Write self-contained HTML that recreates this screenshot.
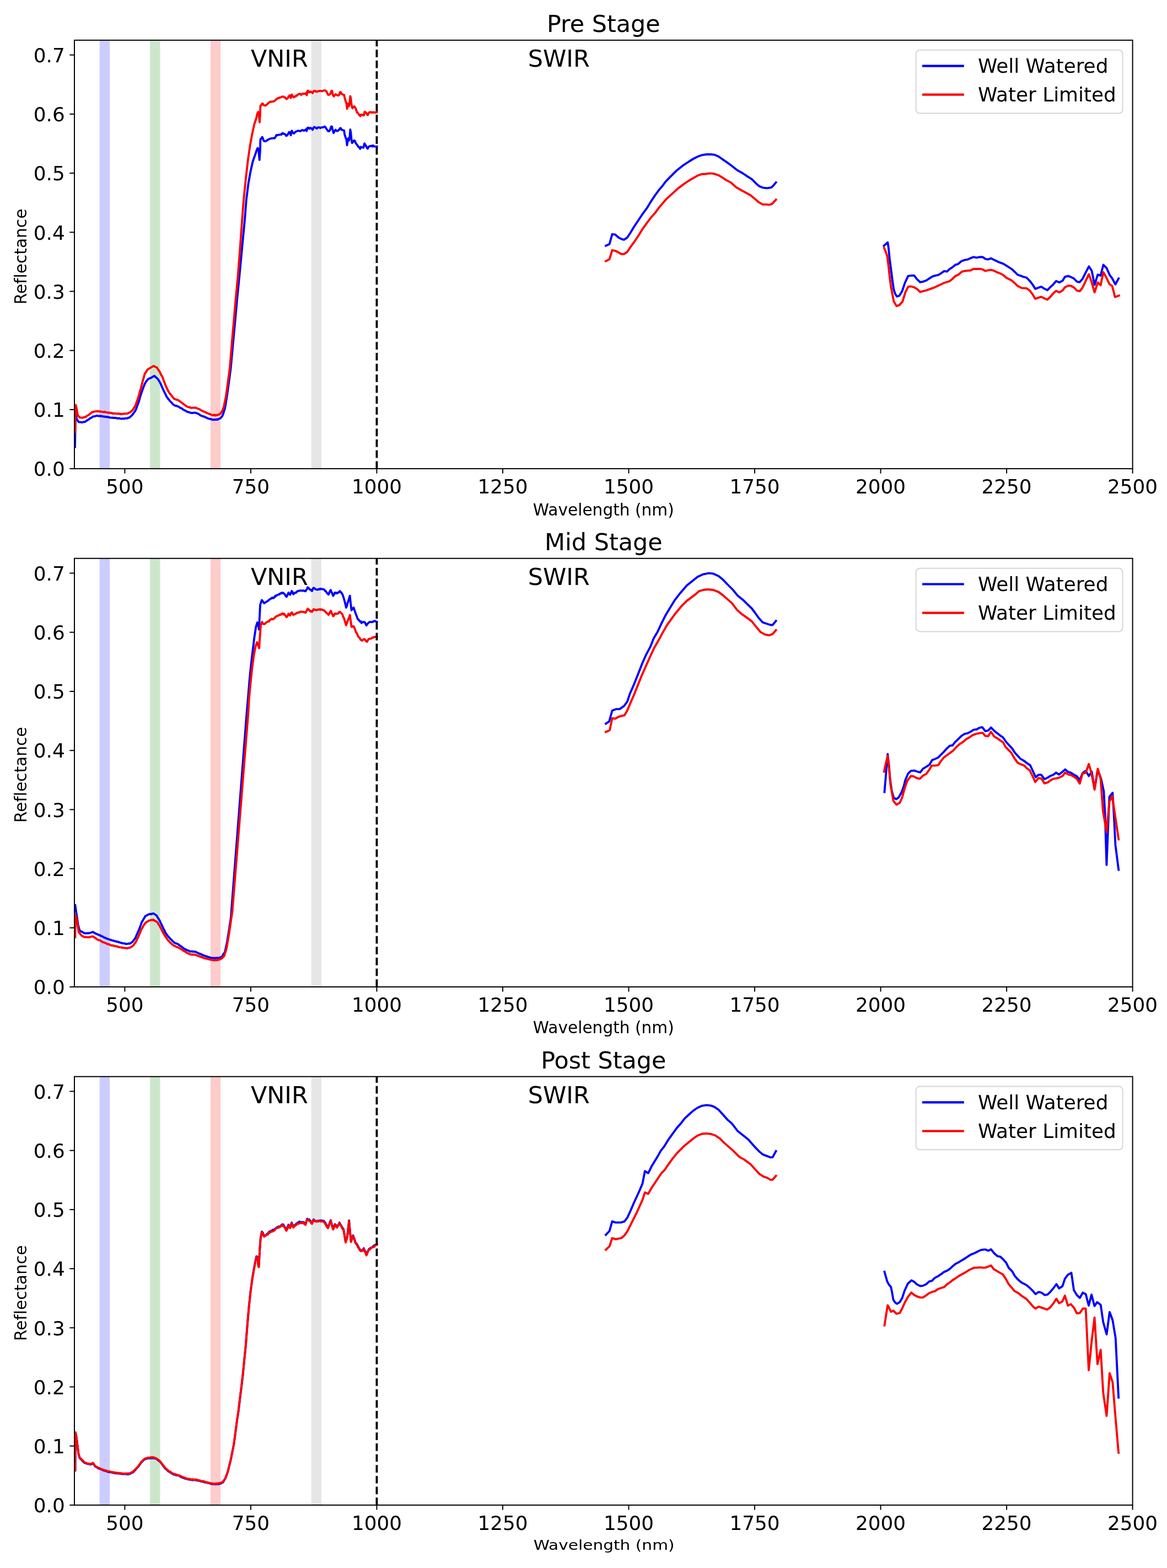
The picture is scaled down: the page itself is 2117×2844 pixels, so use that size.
<!DOCTYPE html><html><head><meta charset="utf-8"><style>html,body{margin:0;padding:0;background:#fff;overflow:hidden;}svg{display:block;}text{font-family:"DejaVu Sans","Liberation Sans",sans-serif;fill:#000;font-variant-ligatures:none;font-feature-settings:"liga" 0,"clig" 0;}</style></head><body>
<svg width="2117" height="2844" viewBox="0 0 2117 2844">
<rect x="0" y="0" width="2117" height="2844" fill="#fff"/>
<rect x="180.7" y="72.9" width="18.28" height="777.2" fill="#ccccff"/>
<rect x="272.11" y="72.9" width="18.28" height="777.2" fill="#cce6cc"/>
<rect x="381.81" y="72.9" width="18.28" height="777.2" fill="#ffcccc"/>
<rect x="564.62" y="72.9" width="18.28" height="777.2" fill="#e6e6e6"/>
<path d="M136.0 810.7 L136.9 749.0 L139.1 759.9 L140.3 762.0 L141.5 763.8 L142.7 765.3 L144.1 765.5 L145.4 765.6 L146.8 765.7 L148.2 766.2 L149.5 766.0 L150.9 765.5 L152.2 765.2 L153.6 765.3 L154.8 764.6 L156.0 763.8 L157.2 763.2 L158.5 762.0 L159.7 761.5 L160.9 760.8 L162.1 759.9 L163.3 758.7 L164.5 758.4 L165.7 757.5 L166.9 757.1 L168.1 755.7 L169.3 755.5 L170.6 755.1 L171.8 755.2 L173.0 754.6 L174.2 754.5 L175.4 754.0 L176.5 754.0 L177.7 754.3 L178.8 754.6 L179.9 754.6 L181.1 754.5 L182.2 754.3 L183.3 754.8 L184.5 754.8 L185.6 755.0 L186.7 755.3 L187.9 755.4 L189.0 755.8 L190.2 755.7 L191.3 755.9 L192.4 756.2 L193.6 756.2 L194.7 756.1 L195.8 756.5 L197.0 756.6 L198.1 757.4 L199.2 757.1 L200.4 757.5 L201.5 757.6 L202.6 757.7 L203.8 757.7 L204.9 757.5 L206.0 758.2 L207.2 757.9 L208.3 758.3 L209.4 757.9 L210.6 758.2 L211.7 758.4 L212.9 758.9 L214.0 759.0 L215.1 758.5 L216.3 758.6 L217.4 759.1 L218.5 759.4 L219.7 759.4 L220.8 759.5 L221.9 759.5 L223.1 759.1 L224.2 759.4 L225.3 759.5 L226.5 759.0 L227.6 758.7 L228.7 758.8 L229.9 758.9 L231.2 758.7 L232.6 757.6 L234.0 757.6 L235.3 757.1 L236.7 755.5 L238.1 754.4 L239.4 753.0 L240.8 751.7 L242.1 749.6 L243.5 748.0 L244.9 745.7 L246.2 743.5 L247.6 740.2 L248.9 736.2 L250.3 732.5 L251.7 729.0 L253.0 724.5 L254.4 719.2 L255.8 715.4 L257.1 710.8 L258.5 707.2 L259.8 703.3 L261.2 700.0 L262.6 696.3 L263.9 694.1 L265.3 691.6 L266.7 690.1 L268.0 688.1 L269.4 687.2 L270.7 686.6 L272.1 686.0 L273.5 685.4 L274.7 685.0 L276.0 684.0 L277.3 683.2 L278.5 682.6 L279.8 681.8 L281.1 682.4 L282.4 684.3 L283.6 684.8 L284.9 686.2 L286.2 687.2 L287.5 689.2 L288.9 691.5 L290.3 693.9 L291.6 696.3 L293.0 699.9 L294.3 702.8 L295.7 705.7 L297.1 709.0 L298.4 711.7 L299.8 714.2 L301.2 717.2 L302.5 719.9 L303.9 721.6 L305.2 723.7 L306.6 725.0 L308.0 727.2 L309.2 728.3 L310.4 729.4 L311.6 730.6 L312.8 732.2 L314.0 733.3 L315.2 734.4 L316.4 735.0 L317.7 735.6 L318.9 736.1 L320.1 735.9 L321.3 736.8 L322.5 737.2 L323.9 737.4 L325.2 738.5 L326.6 739.7 L327.9 739.9 L329.3 740.7 L330.7 741.6 L332.0 742.6 L333.4 743.5 L334.6 744.1 L335.8 744.7 L337.0 745.1 L338.2 746.2 L339.4 746.8 L340.7 747.1 L341.9 747.4 L343.1 747.8 L344.3 748.2 L345.5 748.6 L346.7 748.8 L347.9 749.0 L349.1 749.1 L350.3 748.8 L351.5 748.5 L352.8 748.6 L354.0 748.9 L355.2 748.6 L356.5 749.5 L357.9 749.9 L359.3 750.4 L360.6 751.1 L362.0 752.0 L363.4 753.2 L364.7 753.9 L366.1 754.4 L367.3 754.7 L368.5 755.3 L369.7 755.4 L370.9 755.9 L372.1 756.7 L373.3 757.1 L374.6 757.6 L375.8 758.3 L377.0 758.8 L378.2 759.2 L379.4 759.7 L380.6 759.9 L381.8 760.0 L383.0 760.1 L384.2 760.7 L385.4 761.5 L386.7 761.2 L387.9 761.3 L389.1 760.9 L390.3 761.2 L391.5 761.4 L392.7 760.7 L393.9 761.1 L395.1 760.8 L396.5 759.9 L397.9 759.7 L399.2 758.9 L400.6 758.0 L401.8 756.3 L403.0 754.9 L404.2 752.6 L405.4 748.9 L406.6 745.2 L407.8 741.7 L409.1 734.9 L410.3 726.9 L411.5 719.9 L415.1 694.5 L418.7 667.2 L423.0 620.0 L426.5 582.8 L430.4 540.0 L434.2 501.7 L439.1 450.0 L443.9 400.0 L446.8 362.8 L450.7 331.8 L454.6 310.5 L458.5 293.0 L463.3 279.5 L466.3 270.5 L467.5 268.6 L468.8 269.9 L470.0 282.5 L470.7 290.0 L471.9 273.0 L472.3 256.0 L472.6 252.2 L473.8 251.6 L475.7 248.4 L477.3 252.2 L478.4 255.3 L479.5 256.0 L481.4 256.3 L482.7 255.7 L483.9 255.0 L485.2 253.7 L486.5 253.5 L488.0 252.5 L489.6 251.6 L491.2 251.3 L492.8 250.9 L494.0 250.9 L495.3 250.6 L496.5 250.7 L497.8 250.9 L499.1 249.6 L500.3 247.2 L501.6 244.9 L502.9 245.3 L504.4 244.6 L506.0 244.6 L507.6 244.2 L509.2 244.0 L510.4 244.1 L511.7 242.1 L512.9 241.3 L514.2 242.7 L515.5 242.9 L516.7 243.4 L518.0 244.3 L519.3 246.5 L520.5 245.9 L522.4 243.4 L524.3 239.6 L526.2 239.6 L527.5 245.3 L529.4 237.1 L531.2 240.9 L533.1 242.1 L535.0 240.2 L536.3 238.9 L537.6 238.3 L538.8 238.0 L540.1 237.1 L541.7 237.4 L543.2 237.4 L544.8 238.0 L546.4 237.1 L547.6 236.1 L548.9 235.8 L550.2 236.6 L551.4 237.1 L553.3 235.8 L555.2 234.5 L556.2 237.7 L557.7 232.0 L559.0 231.4 L560.9 233.3 L562.0 233.2 L563.1 231.8 L564.3 232.9 L565.5 233.0 L567.1 235.4 L568.7 231.8 L570.2 230.3 L571.4 230.9 L572.6 231.8 L574.2 233.0 L575.3 232.9 L576.5 231.4 L578.1 230.9 L579.7 231.4 L581.2 232.2 L582.8 231.1 L584.0 231.1 L585.2 231.1 L586.4 230.6 L587.5 230.3 L589.1 229.5 L590.7 231.1 L591.9 233.2 L593.1 235.0 L595.0 237.7 L597.0 238.1 L599.0 235.0 L600.9 229.5 L602.1 229.5 L602.9 233.4 L604.1 238.1 L605.2 241.3 L607.2 237.3 L608.8 235.4 L610.4 237.3 L611.9 237.7 L613.1 237.2 L614.3 235.8 L615.5 235.2 L616.7 232.6 L617.8 232.2 L619.8 235.4 L621.0 235.7 L622.2 236.2 L624.1 236.6 L625.3 244.4 L626.9 249.2 L628.5 253.9 L629.6 263.3 L630.8 254.7 L632.0 250.7 L633.2 254.7 L634.4 248.4 L635.4 235.0 L636.3 239.7 L637.5 252.3 L638.7 259.4 L640.3 257.8 L642.2 254.7 L643.8 255.4 L645.4 259.8 L647.3 262.1 L648.5 263.7 L649.7 265.7 L651.7 267.3 L653.3 270.0 L654.4 266.5 L655.6 267.2 L656.8 267.3 L658.0 267.2 L659.2 268.0 L661.1 260.2 L662.3 262.5 L663.5 263.6 L664.7 266.5 L665.8 268.5 L667.0 269.6 L668.6 266.5 L669.8 265.5 L671.0 264.9 L672.1 265.3 L673.3 264.5 L674.5 264.5 L675.7 265.7 L676.9 263.9 L678.0 265.3 L679.2 265.6 L680.4 265.7 L681.6 265.8 L682.8 265.7 L683.6 265.7" fill="none" stroke="#0000ff" stroke-width="3.85" stroke-linejoin="round" stroke-linecap="square"/>
<path d="M136.4 783.5 L137.3 734.4 L139.1 741.7 L140.9 752.6 L142.1 754.7 L143.3 755.5 L144.5 757.1 L145.9 757.4 L147.3 757.4 L148.6 757.7 L150.0 757.7 L151.3 757.0 L152.7 756.8 L154.1 756.4 L155.4 756.2 L156.8 755.0 L158.1 754.2 L159.5 753.4 L160.9 752.6 L162.1 751.6 L163.3 750.5 L164.5 750.0 L165.7 748.8 L166.9 747.3 L168.1 747.1 L169.3 747.2 L170.6 746.6 L171.8 746.3 L173.0 746.4 L174.2 746.1 L175.4 745.9 L176.5 746.0 L177.7 745.9 L178.8 746.3 L179.9 745.9 L181.1 746.8 L182.2 746.2 L183.3 746.6 L184.5 746.8 L185.6 746.9 L186.7 747.2 L187.9 747.2 L189.0 747.5 L190.2 746.7 L191.3 747.7 L192.4 747.8 L193.6 748.1 L194.7 748.1 L195.8 748.8 L197.0 748.3 L198.1 748.7 L199.2 748.4 L200.4 749.2 L201.5 748.9 L202.6 749.5 L203.8 749.2 L204.9 750.3 L206.0 750.0 L207.2 749.9 L208.3 750.1 L209.4 749.8 L210.6 750.0 L211.7 750.4 L212.9 750.6 L214.0 750.0 L215.1 750.7 L216.3 750.3 L217.4 750.9 L218.5 750.6 L219.7 751.5 L220.8 751.1 L221.9 751.2 L223.1 750.7 L224.2 750.3 L225.3 750.5 L226.5 750.5 L227.6 750.2 L228.7 750.4 L229.9 750.2 L231.2 750.0 L232.6 749.3 L234.0 748.7 L235.3 748.4 L236.7 747.4 L238.1 745.9 L239.4 744.9 L240.8 743.5 L242.1 741.1 L243.5 739.3 L244.9 736.6 L246.2 734.4 L247.6 730.0 L248.9 726.3 L250.3 722.0 L251.7 718.1 L253.0 712.8 L254.4 708.0 L255.8 703.3 L257.1 698.1 L258.5 692.5 L259.8 688.1 L261.2 683.1 L262.6 678.1 L263.9 676.0 L265.3 674.2 L266.7 671.6 L268.0 670.0 L269.4 669.3 L270.7 668.3 L272.1 667.6 L273.5 666.9 L274.8 666.0 L276.2 665.1 L277.5 664.3 L278.9 663.6 L280.3 664.4 L281.6 665.5 L283.0 665.9 L284.4 666.3 L285.7 668.6 L287.1 670.5 L288.4 672.3 L289.8 674.5 L291.2 677.4 L292.5 680.5 L293.9 682.3 L295.3 685.4 L296.6 689.2 L298.0 692.9 L299.3 696.3 L300.7 699.9 L302.1 702.8 L303.4 705.7 L304.8 708.6 L306.2 710.8 L307.5 712.9 L308.9 714.9 L310.2 716.3 L311.6 718.1 L312.7 719.6 L313.9 720.8 L315.0 722.2 L316.1 723.5 L317.4 723.8 L318.7 724.4 L320.0 725.0 L321.2 724.9 L322.5 725.4 L323.9 726.3 L325.2 727.3 L326.6 728.1 L327.9 729.0 L329.3 730.3 L330.7 731.3 L332.0 732.1 L333.4 733.5 L334.6 734.0 L335.8 735.2 L337.0 735.9 L338.2 736.8 L339.4 737.4 L340.7 738.1 L341.9 738.4 L343.1 738.3 L344.3 739.3 L345.5 739.0 L346.7 739.8 L347.9 739.9 L349.1 739.5 L350.3 739.6 L351.5 739.7 L352.8 739.5 L354.0 739.4 L355.2 739.5 L356.5 740.3 L357.9 740.8 L359.3 741.2 L360.6 741.7 L362.0 742.4 L363.4 743.1 L364.7 744.0 L366.1 745.0 L367.3 745.3 L368.5 746.0 L369.7 746.7 L370.9 747.0 L372.1 747.3 L373.3 748.1 L374.6 748.4 L375.8 749.4 L377.0 749.6 L378.2 750.2 L379.4 750.7 L380.6 751.1 L382.0 751.7 L383.3 752.1 L384.7 752.8 L386.1 753.0 L387.3 753.2 L388.5 752.2 L389.7 752.9 L390.9 753.7 L392.1 752.6 L393.3 753.0 L394.7 752.5 L396.0 752.3 L397.4 751.6 L398.8 751.1 L400.0 750.1 L401.2 748.2 L402.4 747.1 L403.6 743.8 L404.8 741.0 L406.0 738.1 L407.2 731.8 L408.5 725.7 L409.7 719.9 L410.9 711.6 L412.1 703.0 L413.3 694.5 L416.9 667.2 L420.8 620.0 L424.1 582.8 L427.8 540.0 L431.5 501.7 L435.5 450.0 L439.1 400.0 L442.0 362.8 L445.9 324.0 L449.7 291.1 L453.6 264.0 L457.5 242.7 L461.4 225.2 L465.2 213.6 L466.3 208.0 L467.5 204.3 L468.5 203.0 L469.4 205.5 L470.4 216.2 L471.0 221.9 L471.9 206.8 L472.3 194.2 L472.6 191.6 L473.8 191.0 L475.4 187.9 L476.7 187.9 L478.2 190.4 L479.5 191.0 L480.8 191.6 L482.0 190.8 L483.3 190.4 L484.6 189.3 L485.8 187.9 L487.4 186.5 L489.0 185.3 L490.2 184.5 L491.5 184.4 L493.1 184.5 L494.7 184.1 L495.9 184.0 L497.2 183.4 L499.1 182.2 L500.3 181.0 L501.6 179.7 L502.9 179.1 L504.1 177.8 L506.0 177.8 L507.6 176.7 L509.2 176.8 L510.7 175.9 L512.3 175.2 L513.6 175.1 L514.8 175.6 L516.1 176.9 L517.4 176.8 L518.6 178.5 L519.9 179.7 L521.8 178.4 L523.7 174.9 L525.6 172.7 L527.5 177.8 L529.4 171.5 L531.2 175.2 L533.1 176.5 L535.0 174.6 L536.3 175.1 L537.6 173.3 L538.8 173.4 L540.1 171.8 L541.7 170.8 L543.2 170.2 L544.8 170.5 L546.4 172.1 L548.3 170.2 L549.9 170.1 L551.4 169.6 L553.3 170.2 L555.2 168.9 L556.5 172.7 L557.7 165.1 L559.0 164.5 L560.9 167.7 L562.0 166.7 L563.1 166.1 L564.3 166.6 L565.5 167.3 L567.1 168.9 L568.7 165.7 L570.2 164.6 L571.4 164.6 L572.6 165.7 L574.2 166.5 L575.3 166.3 L576.5 165.3 L578.1 165.3 L579.7 165.0 L581.2 165.2 L582.8 165.0 L584.0 165.3 L585.2 165.3 L586.4 164.3 L587.5 164.2 L589.1 163.8 L590.7 165.0 L591.9 165.1 L593.1 167.7 L595.0 171.6 L597.0 172.0 L599.0 170.5 L600.9 165.7 L602.1 164.6 L602.9 167.3 L604.1 172.8 L605.6 174.8 L607.2 172.8 L608.8 170.9 L610.4 172.0 L611.9 172.8 L613.5 173.2 L615.1 172.4 L616.7 167.3 L617.8 166.9 L619.8 170.5 L621.0 170.9 L622.2 171.6 L624.1 172.0 L625.3 177.5 L626.9 183.1 L628.5 187.8 L629.6 197.2 L630.8 192.5 L632.0 187.8 L633.2 192.5 L634.4 186.2 L635.4 174.4 L636.3 177.5 L637.5 188.6 L638.7 194.9 L639.5 196.4 L641.1 194.1 L642.6 192.9 L644.2 194.9 L645.8 198.0 L646.6 201.2 L648.1 204.3 L649.3 205.1 L650.5 206.7 L652.5 209.8 L653.6 210.6 L655.2 207.8 L656.8 208.2 L658.4 209.0 L659.9 209.4 L661.5 202.7 L663.1 203.5 L664.3 204.8 L665.4 206.7 L667.0 209.0 L668.6 205.5 L670.2 203.5 L671.3 203.8 L672.5 203.1 L673.7 203.7 L674.9 204.3 L676.5 203.5 L677.6 204.3 L678.8 203.5 L680.0 204.0 L681.2 204.3 L683.5 203.5 L683.6 203.5" fill="none" stroke="#ff0000" stroke-width="3.85" stroke-linejoin="round" stroke-linecap="square"/>
<path d="M1099.0 445.8 L1105.6 442.8 L1110.6 424.8 L1116.0 425.4 L1122.0 430.8 L1127.0 433.4 L1131.9 434.8 L1137.9 430.8 L1143.9 421.8 L1149.9 411.8 L1157.9 399.8 L1165.9 387.8 L1173.9 376.9 L1179.9 366.9 L1187.9 354.9 L1195.9 343.9 L1201.9 336.9 L1207.9 328.9 L1215.8 320.9 L1227.8 308.9 L1239.8 299.6 L1249.8 293.0 L1257.8 288.0 L1265.8 284.0 L1273.8 281.2 L1281.8 280.0 L1289.8 280.0 L1295.8 280.6 L1303.7 284.0 L1311.7 289.6 L1319.7 295.2 L1327.7 301.0 L1337.7 308.9 L1347.7 314.5 L1355.7 319.9 L1363.7 324.9 L1371.7 332.9 L1377.7 337.9 L1383.6 340.3 L1391.6 341.3 L1399.6 339.9 L1403.6 335.9 L1407.6 330.9" fill="none" stroke="#0000ff" stroke-width="3.85" stroke-linejoin="round" stroke-linecap="square"/>
<path d="M1099.0 473.7 L1105.6 470.1 L1110.6 453.8 L1116.0 454.8 L1122.0 457.8 L1127.0 460.8 L1131.9 460.8 L1137.9 456.8 L1143.9 447.8 L1151.9 436.8 L1159.9 424.8 L1165.9 414.8 L1173.9 403.8 L1179.9 395.8 L1187.9 386.8 L1195.9 375.9 L1201.9 368.9 L1207.9 361.9 L1217.8 352.9 L1229.8 341.9 L1241.8 332.9 L1249.8 327.5 L1257.8 322.9 L1265.8 318.3 L1272.8 315.9 L1279.8 315.5 L1287.8 314.3 L1293.8 314.9 L1303.7 317.9 L1311.7 322.9 L1317.7 326.9 L1325.7 330.9 L1335.7 339.9 L1345.7 345.5 L1353.7 349.9 L1361.7 354.3 L1369.7 360.9 L1375.7 366.3 L1383.6 370.9 L1389.6 370.9 L1395.6 371.3 L1400.6 369.9 L1403.6 366.3 L1407.6 362.3" fill="none" stroke="#ff0000" stroke-width="3.85" stroke-linejoin="round" stroke-linecap="square"/>
<path d="M1603.4 445.9 L1610.3 439.6 L1611.8 449.1 L1614.0 470.8 L1616.9 492.6 L1619.1 510.1 L1621.2 524.6 L1624.1 533.3 L1627.0 537.7 L1631.4 536.5 L1636.5 528.2 L1641.6 513.0 L1647.4 500.6 L1652.5 499.9 L1658.3 499.6 L1663.4 506.4 L1669.2 511.8 L1674.3 510.8 L1680.1 508.9 L1685.9 505.0 L1691.7 501.4 L1697.5 499.6 L1701.9 498.9 L1707.7 495.3 L1712.8 491.6 L1717.8 492.6 L1722.9 487.8 L1728.0 484.6 L1733.1 480.3 L1738.2 478.8 L1744.0 473.8 L1749.8 471.6 L1755.6 470.6 L1761.4 467.9 L1765.8 466.2 L1771.6 467.4 L1777.4 466.2 L1782.5 466.2 L1787.6 469.7 L1792.7 470.6 L1797.7 468.4 L1803.6 471.6 L1809.4 474.2 L1814.5 476.4 L1819.5 478.1 L1827.3 482.8 L1835.3 488.0 L1840.3 492.6 L1846.2 498.5 L1852.0 500.3 L1856.3 502.1 L1862.1 503.5 L1867.9 509.3 L1873.0 515.9 L1878.1 523.9 L1883.9 521.7 L1889.0 520.0 L1894.1 523.4 L1899.9 526.3 L1905.0 521.0 L1910.1 516.6 L1915.9 509.8 L1921.7 512.3 L1927.5 509.3 L1931.9 502.1 L1937.7 500.6 L1942.0 502.1 L1947.8 505.0 L1953.7 510.8 L1958.7 511.8 L1963.8 505.7 L1969.6 494.1 L1975.4 483.2 L1980.5 491.2 L1983.4 505.7 L1985.6 516.6 L1988.5 507.2 L1991.4 498.2 L1996.5 499.9 L2001.6 480.3 L2007.4 486.1 L2013.2 499.2 L2017.6 505.0 L2023.4 515.9 L2029.2 505.0" fill="none" stroke="#0000ff" stroke-width="3.85" stroke-linejoin="round" stroke-linecap="square"/>
<path d="M1603.8 449.8 L1606.7 456.3 L1609.6 465.0 L1611.8 482.5 L1614.0 502.8 L1616.2 520.2 L1619.1 534.8 L1621.2 546.4 L1626.3 555.1 L1631.4 553.4 L1637.2 547.1 L1642.3 530.4 L1647.4 520.2 L1652.5 519.5 L1658.3 521.0 L1664.1 524.6 L1669.2 529.7 L1674.3 528.2 L1680.1 526.8 L1685.9 524.6 L1691.7 522.7 L1697.5 520.2 L1703.3 517.6 L1707.7 515.6 L1712.8 513.0 L1717.8 511.5 L1722.9 509.8 L1728.0 505.7 L1733.1 500.6 L1738.2 498.5 L1744.7 492.9 L1749.8 491.5 L1755.6 490.9 L1760.7 490.5 L1765.8 487.6 L1771.6 488.0 L1777.4 487.6 L1782.5 488.6 L1787.6 491.5 L1792.7 490.2 L1797.7 489.7 L1803.6 491.2 L1809.4 494.1 L1815.2 496.3 L1820.3 499.2 L1825.8 504.0 L1834.5 508.3 L1840.3 513.0 L1846.2 518.8 L1853.4 522.4 L1862.1 522.9 L1867.9 526.8 L1873.0 533.6 L1878.1 542.0 L1883.9 539.9 L1889.0 538.4 L1894.1 541.0 L1899.9 543.5 L1905.7 538.0 L1910.8 531.9 L1915.9 527.5 L1921.7 530.4 L1927.5 526.8 L1931.9 521.0 L1937.7 518.1 L1942.8 518.5 L1948.6 521.7 L1953.7 527.2 L1958.7 528.2 L1963.8 521.7 L1969.6 509.3 L1975.2 497.4 L1979.8 510.1 L1985.6 530.4 L1991.4 512.3 L1996.5 517.3 L2001.6 493.8 L2007.4 504.3 L2012.5 515.2 L2017.6 518.8 L2022.7 538.8 L2029.9 536.2" fill="none" stroke="#ff0000" stroke-width="3.85" stroke-linejoin="round" stroke-linecap="square"/>
<path d="M683.46 850.10 L683.46 72.90" stroke="#000" stroke-width="3.85" stroke-dasharray="13.71 5.93" fill="none"/>
<text x="454.9" y="121.0" font-size="42.90">VNIR</text>
<text x="957.7" y="121.2" font-size="42.90">SWIR</text>
<rect x="135.00" y="72.90" width="1919.60" height="777.20" fill="none" stroke="#000" stroke-width="1.98" stroke-linejoin="miter"/>
<path d="M226.41 850.10 L226.41 858.75" stroke="#000" stroke-width="1.98"/>
<text x="226.41" y="894.90" font-size="35.80" text-anchor="middle">500</text>
<path d="M454.93 850.10 L454.93 858.75" stroke="#000" stroke-width="1.98"/>
<text x="454.93" y="894.90" font-size="35.80" text-anchor="middle">750</text>
<path d="M683.46 850.10 L683.46 858.75" stroke="#000" stroke-width="1.98"/>
<text x="683.46" y="894.90" font-size="35.80" text-anchor="middle">1000</text>
<path d="M911.98 850.10 L911.98 858.75" stroke="#000" stroke-width="1.98"/>
<text x="911.98" y="894.90" font-size="35.80" text-anchor="middle">1250</text>
<path d="M1140.50 850.10 L1140.50 858.75" stroke="#000" stroke-width="1.98"/>
<text x="1140.50" y="894.90" font-size="35.80" text-anchor="middle">1500</text>
<path d="M1369.03 850.10 L1369.03 858.75" stroke="#000" stroke-width="1.98"/>
<text x="1369.03" y="894.90" font-size="35.80" text-anchor="middle">1750</text>
<path d="M1597.55 850.10 L1597.55 858.75" stroke="#000" stroke-width="1.98"/>
<text x="1597.55" y="894.90" font-size="35.80" text-anchor="middle">2000</text>
<path d="M1826.08 850.10 L1826.08 858.75" stroke="#000" stroke-width="1.98"/>
<text x="1826.08" y="894.90" font-size="35.80" text-anchor="middle">2250</text>
<path d="M2054.60 850.10 L2054.60 858.75" stroke="#000" stroke-width="1.98"/>
<text x="2054.60" y="894.90" font-size="35.80" text-anchor="middle">2500</text>
<path d="M135.00 850.10 L126.36 850.10" stroke="#000" stroke-width="1.98"/>
<text x="117.71" y="863.30" font-size="35.80" text-anchor="end">0.0</text>
<path d="M135.00 742.90 L126.36 742.90" stroke="#000" stroke-width="1.98"/>
<text x="117.71" y="756.10" font-size="35.80" text-anchor="end">0.1</text>
<path d="M135.00 635.70 L126.36 635.70" stroke="#000" stroke-width="1.98"/>
<text x="117.71" y="648.90" font-size="35.80" text-anchor="end">0.2</text>
<path d="M135.00 528.50 L126.36 528.50" stroke="#000" stroke-width="1.98"/>
<text x="117.71" y="541.70" font-size="35.80" text-anchor="end">0.3</text>
<path d="M135.00 421.30 L126.36 421.30" stroke="#000" stroke-width="1.98"/>
<text x="117.71" y="434.50" font-size="35.80" text-anchor="end">0.4</text>
<path d="M135.00 314.10 L126.36 314.10" stroke="#000" stroke-width="1.98"/>
<text x="117.71" y="327.30" font-size="35.80" text-anchor="end">0.5</text>
<path d="M135.00 206.90 L126.36 206.90" stroke="#000" stroke-width="1.98"/>
<text x="117.71" y="220.10" font-size="35.80" text-anchor="end">0.6</text>
<path d="M135.00 99.70 L126.36 99.70" stroke="#000" stroke-width="1.98"/>
<text x="117.71" y="112.90" font-size="35.80" text-anchor="end">0.7</text>
<text x="1094.80" y="934.50" font-size="29.64" text-anchor="middle">Wavelength (nm)</text>
<text transform="translate(47.9 465.50) rotate(-90)" x="0" y="0" font-size="29.64" text-anchor="middle">Reflectance</text>
<text x="1094.80" y="57.70" font-size="42.90" text-anchor="middle">Pre Stage</text>
<rect x="1661.6" y="90.80" width="375.00" height="114.70" rx="7" ry="7" fill="#fff" fill-opacity="0.8" stroke="#d6d6d6" stroke-width="1.98"/>
<path d="M1673 119.60 L1748.8 119.60" stroke="#0000ff" stroke-width="4.2" stroke-linecap="butt"/>
<text x="1774" y="131.80" font-size="35.80">Well Watered</text>
<path d="M1673 171.70 L1748.8 171.70" stroke="#ff0000" stroke-width="4.2" stroke-linecap="butt"/>
<text x="1774" y="183.90" font-size="35.80">Water Limited</text>
<rect x="180.7" y="1012.8" width="18.28" height="777.2" fill="#ccccff"/>
<rect x="272.11" y="1012.8" width="18.28" height="777.2" fill="#cce6cc"/>
<rect x="381.81" y="1012.8" width="18.28" height="777.2" fill="#ffcccc"/>
<rect x="564.62" y="1012.8" width="18.28" height="777.2" fill="#e6e6e6"/>
<path d="M136.4 1641.8 L138.2 1654.5 L140.0 1665.4 L141.8 1678.1 L143.2 1683.1 L144.5 1688.1 L145.9 1688.7 L147.3 1689.5 L148.6 1689.6 L150.0 1690.8 L151.3 1691.8 L152.7 1692.2 L154.1 1692.5 L155.4 1693.0 L156.6 1692.6 L157.8 1692.5 L159.1 1692.9 L160.3 1692.3 L161.5 1692.6 L162.7 1692.3 L164.0 1691.8 L165.2 1691.5 L166.5 1691.2 L167.8 1690.4 L169.0 1690.5 L170.2 1691.6 L171.3 1691.8 L172.4 1692.5 L173.6 1693.5 L174.9 1693.7 L176.3 1694.6 L177.7 1695.2 L179.0 1695.4 L180.2 1696.4 L181.5 1696.2 L182.7 1697.7 L183.9 1697.8 L185.1 1698.2 L186.3 1699.0 L187.5 1699.3 L188.7 1700.4 L189.9 1700.9 L191.1 1701.0 L192.3 1701.9 L193.6 1702.1 L194.8 1702.8 L196.0 1703.1 L197.2 1703.3 L198.4 1704.0 L199.6 1704.4 L200.8 1704.8 L202.0 1705.2 L203.2 1705.7 L204.5 1705.6 L205.7 1706.5 L206.9 1706.5 L208.1 1706.8 L209.3 1707.2 L210.5 1707.4 L211.7 1708.3 L212.9 1708.1 L214.1 1707.9 L215.4 1709.0 L216.6 1709.1 L217.8 1709.6 L219.0 1710.0 L220.2 1710.1 L221.4 1710.6 L222.6 1710.8 L223.8 1711.1 L225.0 1711.2 L226.2 1711.1 L227.5 1712.0 L228.7 1712.0 L229.9 1712.1 L231.2 1711.9 L232.6 1711.5 L234.0 1711.5 L235.3 1711.3 L236.7 1710.9 L238.1 1709.8 L239.4 1708.9 L240.8 1708.1 L242.1 1706.0 L243.5 1704.1 L244.9 1702.0 L246.2 1699.9 L247.6 1696.4 L248.9 1693.6 L250.3 1690.3 L251.7 1687.2 L253.0 1684.0 L254.4 1680.4 L255.8 1676.6 L257.1 1672.7 L258.4 1670.5 L259.7 1668.4 L260.9 1666.2 L262.2 1664.3 L263.5 1661.8 L264.7 1661.2 L266.0 1660.4 L267.3 1659.6 L268.6 1659.0 L269.8 1658.5 L271.0 1657.8 L272.2 1658.1 L273.3 1657.8 L274.5 1658.1 L275.7 1657.2 L276.8 1657.3 L278.0 1656.9 L279.4 1657.3 L280.7 1658.4 L282.1 1659.1 L283.5 1660.0 L284.7 1661.5 L286.0 1664.1 L287.3 1665.9 L288.5 1668.1 L289.8 1669.9 L291.2 1673.3 L292.5 1675.9 L293.9 1678.6 L295.3 1681.7 L296.6 1684.8 L298.0 1686.9 L299.3 1690.0 L300.7 1692.6 L301.9 1694.2 L303.1 1696.1 L304.3 1697.5 L305.5 1698.8 L306.8 1700.1 L308.0 1701.7 L309.2 1703.1 L310.4 1704.0 L311.6 1705.1 L312.8 1706.6 L314.0 1707.7 L315.2 1709.0 L316.4 1709.5 L317.5 1710.6 L318.6 1710.9 L319.8 1711.3 L320.9 1711.5 L322.0 1712.2 L323.2 1712.6 L324.3 1713.5 L325.5 1714.6 L326.7 1715.4 L327.9 1716.2 L329.2 1716.8 L330.4 1717.9 L331.6 1719.0 L332.8 1719.8 L334.0 1720.7 L335.2 1721.3 L336.4 1721.8 L337.6 1722.6 L338.8 1723.5 L340.0 1723.5 L341.3 1723.9 L342.5 1724.5 L343.7 1725.1 L344.9 1726.0 L346.1 1725.9 L347.3 1725.5 L348.5 1725.5 L349.7 1726.2 L350.9 1726.0 L352.2 1726.2 L353.4 1726.2 L354.6 1726.1 L355.8 1727.1 L357.0 1727.5 L358.2 1727.9 L359.4 1729.0 L360.6 1729.0 L361.8 1729.9 L363.1 1730.0 L364.3 1730.5 L365.5 1731.3 L366.7 1731.5 L367.9 1732.6 L369.1 1733.0 L370.3 1733.0 L371.5 1733.8 L372.7 1734.2 L373.9 1734.2 L375.2 1734.8 L376.4 1735.1 L377.6 1735.8 L378.8 1735.8 L380.0 1736.4 L381.2 1736.7 L382.4 1737.1 L383.6 1737.7 L384.8 1737.8 L386.1 1737.4 L387.3 1737.7 L388.5 1737.7 L389.7 1738.0 L390.9 1737.8 L392.1 1737.4 L393.3 1737.7 L394.5 1737.4 L395.7 1737.7 L396.9 1737.7 L398.3 1736.8 L399.7 1736.6 L401.0 1735.8 L402.4 1735.3 L403.8 1733.2 L405.1 1730.7 L406.5 1729.1 L407.8 1727.1 L409.1 1721.7 L410.3 1716.0 L411.5 1710.8 L415.1 1689.0 L418.7 1665.4 L447.8 1290.0 L449.7 1268.6 L452.6 1233.7 L455.5 1204.6 L458.5 1179.5 L461.4 1156.2 L464.3 1136.9 L466.8 1129.1 L468.7 1134.9 L469.7 1141.7 L471.0 1117.5 L472.0 1097.1 L473.5 1092.9 L474.9 1088.4 L476.9 1090.8 L478.0 1092.6 L479.2 1094.2 L480.5 1093.0 L481.9 1092.7 L483.2 1091.3 L484.6 1090.8 L485.8 1090.1 L486.9 1089.0 L488.1 1087.9 L489.2 1087.0 L490.4 1086.5 L491.6 1085.6 L492.7 1085.2 L493.9 1083.9 L495.1 1084.8 L496.2 1084.6 L497.4 1083.7 L498.5 1081.5 L499.7 1082.0 L500.9 1079.9 L502.0 1079.7 L503.2 1079.3 L504.4 1078.8 L505.5 1078.0 L506.7 1078.2 L507.8 1076.8 L509.1 1076.6 L510.3 1075.2 L511.5 1076.3 L512.7 1074.9 L514.0 1075.7 L515.3 1076.7 L516.6 1077.8 L518.2 1080.9 L519.9 1082.6 L521.0 1080.0 L522.2 1077.7 L523.3 1074.9 L524.8 1076.9 L526.2 1078.7 L527.7 1075.8 L529.2 1072.0 L530.6 1073.8 L532.1 1077.8 L533.2 1076.9 L534.3 1075.8 L535.4 1075.0 L536.6 1075.2 L537.7 1074.4 L538.8 1072.9 L540.0 1072.1 L541.2 1071.9 L542.3 1071.9 L543.5 1071.2 L544.6 1071.4 L545.8 1071.1 L547.0 1071.2 L548.1 1071.5 L549.3 1071.7 L550.5 1071.0 L551.8 1071.6 L553.0 1072.1 L554.3 1072.5 L555.6 1069.8 L556.9 1068.6 L558.2 1065.2 L559.5 1066.4 L560.8 1067.7 L562.1 1069.1 L563.4 1069.5 L564.7 1071.1 L566.0 1072.0 L567.4 1068.3 L568.9 1066.2 L570.1 1066.8 L571.3 1067.6 L572.5 1069.0 L573.7 1069.1 L574.9 1069.2 L576.0 1069.7 L577.2 1069.0 L578.4 1069.2 L579.5 1068.1 L580.6 1068.8 L581.7 1067.7 L582.8 1068.1 L583.9 1068.5 L585.1 1068.7 L586.2 1068.6 L587.3 1069.1 L588.5 1069.9 L589.7 1071.8 L590.9 1072.2 L592.1 1073.9 L593.4 1076.1 L594.7 1076.9 L596.0 1078.4 L597.3 1075.0 L598.6 1072.0 L599.9 1070.0 L601.0 1073.8 L602.1 1074.9 L603.2 1077.8 L604.3 1080.7 L606.0 1077.9 L607.6 1074.9 L608.8 1075.0 L610.0 1076.2 L611.2 1075.2 L612.4 1075.8 L613.7 1074.5 L615.0 1074.0 L616.3 1072.0 L617.5 1074.0 L618.7 1074.2 L620.0 1076.1 L621.2 1077.8 L622.6 1081.9 L624.1 1086.5 L625.4 1091.2 L626.7 1096.6 L627.9 1102.0 L629.2 1099.1 L630.5 1094.1 L631.8 1090.4 L633.3 1085.2 L634.7 1080.7 L636.2 1095.0 L637.6 1106.8 L638.9 1105.0 L640.2 1103.4 L641.5 1102.0 L642.8 1105.8 L644.1 1109.7 L645.4 1113.6 L646.7 1116.6 L648.0 1120.2 L649.2 1123.3 L650.5 1123.9 L651.8 1125.7 L653.1 1127.2 L654.4 1126.9 L655.7 1129.9 L657.0 1129.1 L658.3 1128.2 L659.6 1128.3 L660.9 1128.1 L662.2 1129.4 L663.5 1132.1 L664.7 1134.5 L666.0 1132.2 L667.3 1130.9 L668.6 1129.5 L669.9 1128.5 L671.2 1128.2 L672.5 1128.1 L673.8 1128.3 L675.1 1128.1 L676.4 1128.1 L677.7 1126.6 L679.0 1126.7 L680.2 1126.2 L683.6 1127.9" fill="none" stroke="#0000ff" stroke-width="3.85" stroke-linejoin="round" stroke-linecap="square"/>
<path d="M136.4 1699.9 L136.9 1660.0 L138.7 1665.4 L140.9 1678.1 L142.7 1690.8 L144.1 1692.2 L145.4 1694.0 L146.8 1695.6 L148.2 1697.2 L149.5 1698.0 L150.9 1698.2 L152.2 1699.3 L153.6 1699.9 L154.8 1699.6 L156.0 1699.6 L157.2 1699.8 L158.5 1699.9 L159.7 1700.0 L160.9 1699.9 L162.0 1700.1 L163.2 1699.2 L164.4 1699.4 L165.5 1698.9 L166.7 1698.5 L167.9 1698.8 L169.0 1698.5 L170.3 1699.8 L171.5 1700.3 L172.7 1701.7 L173.9 1701.9 L175.2 1702.9 L176.5 1704.2 L177.8 1704.5 L179.0 1705.0 L180.2 1705.3 L181.5 1705.7 L182.7 1706.5 L183.9 1707.2 L185.1 1708.1 L186.3 1708.6 L187.5 1709.2 L188.7 1709.5 L189.9 1710.1 L191.1 1710.3 L192.3 1710.7 L193.6 1711.7 L194.8 1712.5 L196.0 1712.4 L197.2 1712.8 L198.4 1712.7 L199.6 1714.0 L200.8 1714.1 L202.0 1714.8 L203.2 1714.9 L204.5 1714.6 L205.7 1715.1 L206.9 1715.7 L208.1 1715.9 L209.3 1716.1 L210.5 1716.2 L211.7 1716.9 L212.9 1716.6 L214.1 1717.4 L215.4 1717.7 L216.6 1718.1 L217.8 1718.2 L219.0 1718.3 L220.2 1718.1 L221.4 1718.9 L222.6 1719.0 L223.8 1719.1 L225.0 1719.3 L226.2 1719.4 L227.5 1719.6 L228.7 1719.6 L229.9 1719.9 L231.2 1720.0 L232.6 1719.2 L234.0 1719.1 L235.3 1719.0 L236.7 1718.2 L238.1 1717.6 L239.4 1716.5 L240.8 1715.9 L242.1 1714.2 L243.5 1712.4 L244.9 1710.6 L246.2 1709.0 L247.6 1706.1 L248.9 1703.0 L250.3 1700.7 L251.7 1697.2 L253.0 1694.0 L254.4 1690.9 L255.8 1687.4 L257.1 1684.5 L258.4 1682.7 L259.7 1680.2 L260.9 1677.8 L262.2 1676.4 L263.5 1674.1 L264.7 1673.5 L266.0 1672.2 L267.3 1671.7 L268.6 1670.7 L269.8 1669.9 L271.0 1669.6 L272.2 1669.7 L273.3 1668.8 L274.5 1668.7 L275.7 1668.5 L276.8 1668.7 L278.0 1668.1 L279.3 1668.9 L280.5 1670.2 L281.8 1670.1 L283.1 1671.4 L284.4 1671.8 L285.7 1673.3 L287.1 1675.8 L288.4 1677.7 L289.8 1679.9 L291.2 1682.7 L292.5 1685.0 L293.9 1687.9 L295.3 1690.8 L296.6 1692.7 L298.0 1695.7 L299.3 1697.2 L300.7 1699.9 L301.9 1701.0 L303.1 1703.2 L304.3 1704.8 L305.5 1706.2 L306.8 1707.3 L308.0 1709.0 L309.2 1709.9 L310.4 1710.9 L311.6 1712.1 L312.8 1713.3 L314.0 1713.9 L315.2 1715.3 L316.4 1715.6 L317.5 1715.8 L318.6 1716.7 L319.8 1717.3 L320.9 1718.0 L322.0 1717.8 L323.2 1718.5 L324.3 1719.0 L325.5 1719.9 L326.7 1720.5 L327.9 1721.1 L329.2 1721.8 L330.4 1722.9 L331.6 1723.5 L332.8 1724.4 L334.0 1725.3 L335.2 1725.8 L336.4 1726.3 L337.6 1727.2 L338.8 1728.1 L340.0 1728.4 L341.3 1729.1 L342.5 1729.9 L343.7 1730.6 L344.9 1731.0 L346.1 1731.1 L347.3 1731.2 L348.5 1731.7 L349.7 1731.1 L350.9 1731.6 L352.2 1731.4 L353.4 1731.5 L354.6 1732.1 L355.8 1732.1 L357.0 1732.9 L358.2 1733.6 L359.4 1733.6 L360.6 1734.0 L361.8 1734.4 L363.1 1735.4 L364.3 1735.7 L365.5 1735.5 L366.7 1736.4 L367.9 1737.1 L369.1 1737.5 L370.3 1738.0 L371.5 1738.3 L372.7 1738.1 L373.9 1738.8 L375.2 1738.9 L376.4 1739.1 L377.6 1739.6 L378.8 1739.7 L380.0 1740.2 L381.2 1740.5 L382.4 1740.8 L383.6 1740.9 L384.8 1741.0 L386.1 1741.4 L387.3 1741.5 L388.5 1741.8 L389.7 1741.7 L390.9 1741.5 L392.1 1741.4 L393.3 1741.4 L394.5 1741.3 L395.7 1740.9 L396.9 1740.8 L398.3 1740.2 L399.7 1739.6 L401.0 1739.1 L402.4 1738.4 L403.5 1737.3 L404.7 1735.8 L405.8 1735.0 L406.9 1733.5 L408.1 1729.2 L409.4 1725.6 L410.6 1721.7 L411.8 1715.4 L413.0 1708.0 L414.2 1701.7 L417.8 1678.1 L421.5 1652.7 L450.6 1290.0 L451.7 1268.6 L454.6 1237.6 L457.5 1210.5 L460.4 1189.2 L463.3 1173.7 L466.2 1164.9 L468.1 1168.8 L470.1 1175.6 L471.4 1156.2 L473.0 1134.9 L474.1 1131.5 L475.3 1128.1 L476.9 1131.0 L478.3 1132.0 L479.8 1132.0 L481.0 1130.9 L482.2 1129.8 L483.4 1128.7 L484.6 1128.1 L485.8 1127.2 L486.9 1127.1 L488.1 1127.2 L489.2 1124.6 L490.4 1124.3 L491.6 1123.2 L492.7 1122.4 L493.9 1123.2 L495.1 1123.4 L496.2 1122.3 L497.4 1121.8 L498.5 1120.3 L499.7 1119.0 L500.9 1118.1 L502.0 1117.5 L503.2 1117.0 L504.4 1116.6 L505.5 1116.4 L506.7 1115.4 L507.8 1114.6 L509.1 1115.2 L510.3 1114.2 L511.5 1113.1 L512.7 1112.6 L514.0 1114.4 L515.3 1113.0 L516.6 1115.2 L518.2 1117.1 L519.9 1119.4 L521.0 1117.8 L522.2 1116.4 L523.3 1113.2 L524.8 1115.1 L526.2 1116.5 L527.7 1112.5 L529.2 1110.7 L530.6 1112.8 L532.1 1115.5 L533.2 1114.6 L534.3 1114.0 L535.4 1113.5 L536.6 1113.5 L537.7 1112.3 L538.8 1111.3 L540.0 1111.6 L541.2 1110.8 L542.3 1111.2 L543.5 1110.3 L544.6 1109.7 L545.8 1109.7 L547.0 1109.4 L548.1 1109.8 L549.3 1109.8 L550.5 1109.7 L551.8 1110.1 L553.0 1110.8 L554.3 1111.3 L555.6 1109.1 L556.9 1106.8 L558.2 1103.9 L559.5 1105.9 L560.8 1106.0 L562.1 1107.8 L563.4 1109.1 L564.7 1108.2 L566.0 1109.7 L567.4 1107.8 L568.9 1104.9 L570.1 1105.8 L571.3 1106.0 L572.5 1106.2 L573.7 1106.8 L574.9 1106.8 L576.0 1105.6 L577.2 1105.7 L578.4 1105.3 L579.5 1105.9 L580.6 1105.0 L581.7 1106.2 L582.8 1105.2 L583.9 1105.7 L585.1 1105.9 L586.2 1107.0 L587.3 1106.8 L588.5 1107.6 L589.7 1109.0 L590.9 1110.2 L592.1 1111.7 L593.4 1112.4 L594.7 1113.5 L596.0 1115.2 L597.3 1112.7 L598.6 1110.9 L599.9 1107.8 L601.0 1109.7 L602.1 1113.1 L603.2 1114.3 L604.3 1117.5 L606.0 1116.6 L607.6 1112.6 L608.8 1112.6 L610.0 1113.2 L611.2 1113.2 L612.4 1113.2 L613.7 1112.4 L615.0 1110.3 L616.3 1109.7 L617.5 1110.2 L618.7 1112.0 L620.0 1112.9 L621.2 1114.6 L622.6 1118.8 L624.1 1121.4 L625.4 1125.9 L626.7 1130.3 L627.9 1133.9 L629.2 1130.6 L630.5 1126.8 L631.8 1123.3 L633.3 1120.1 L634.7 1115.5 L636.2 1126.6 L637.6 1136.9 L638.9 1136.9 L640.2 1135.9 L641.5 1135.9 L642.8 1138.4 L644.1 1142.0 L645.4 1145.6 L646.7 1148.0 L648.0 1149.8 L649.2 1153.3 L650.5 1155.3 L651.8 1156.4 L653.1 1158.2 L654.4 1160.5 L655.7 1161.1 L657.0 1162.0 L658.3 1160.6 L659.6 1159.6 L660.9 1159.1 L662.1 1160.1 L663.3 1161.9 L664.5 1163.3 L665.7 1164.0 L667.2 1161.6 L668.6 1159.1 L669.9 1158.7 L671.2 1158.7 L672.5 1158.2 L673.8 1158.1 L675.1 1156.6 L676.4 1156.2 L677.7 1156.4 L679.0 1155.4 L680.2 1155.3 L683.6 1154.4" fill="none" stroke="#ff0000" stroke-width="3.85" stroke-linejoin="round" stroke-linecap="square"/>
<path d="M1099.0 1312.7 L1105.0 1308.7 L1110.6 1288.7 L1118.0 1286.1 L1124.0 1286.1 L1131.9 1280.7 L1137.9 1272.7 L1142.9 1257.7 L1149.9 1241.7 L1157.9 1221.8 L1164.9 1203.8 L1171.9 1187.8 L1179.9 1172.8 L1185.9 1157.8 L1192.9 1145.9 L1199.9 1130.9 L1207.9 1114.9 L1215.8 1101.9 L1223.8 1088.9 L1233.8 1075.9 L1245.8 1062.0 L1255.8 1054.0 L1265.8 1046.0 L1275.8 1041.6 L1285.8 1039.6 L1293.8 1040.4 L1303.7 1045.0 L1311.7 1051.6 L1319.7 1060.0 L1329.7 1070.0 L1337.7 1079.9 L1347.7 1087.9 L1355.7 1095.9 L1363.7 1103.5 L1369.7 1111.5 L1375.7 1119.9 L1383.6 1128.9 L1391.6 1131.5 L1397.6 1133.5 L1401.6 1133.5 L1407.6 1126.3" fill="none" stroke="#0000ff" stroke-width="3.85" stroke-linejoin="round" stroke-linecap="square"/>
<path d="M1099.0 1327.6 L1106.0 1324.6 L1110.6 1302.7 L1116.0 1303.7 L1121.0 1300.7 L1127.0 1298.7 L1132.9 1297.3 L1137.9 1288.7 L1142.9 1276.7 L1149.9 1260.7 L1155.9 1245.7 L1163.9 1225.8 L1171.9 1207.8 L1179.9 1189.8 L1186.9 1174.8 L1193.9 1162.8 L1201.9 1147.9 L1209.9 1133.9 L1217.8 1122.9 L1225.8 1111.9 L1235.8 1099.9 L1245.8 1089.9 L1253.8 1083.9 L1261.8 1077.9 L1267.8 1072.3 L1275.8 1070.0 L1283.8 1069.0 L1293.8 1070.0 L1303.7 1073.9 L1311.7 1079.9 L1319.7 1086.9 L1327.7 1093.9 L1336.7 1105.9 L1345.7 1113.9 L1355.7 1120.9 L1363.7 1126.9 L1371.7 1136.9 L1379.6 1146.3 L1387.6 1150.9 L1395.6 1152.3 L1401.6 1149.9 L1407.6 1142.9" fill="none" stroke="#ff0000" stroke-width="3.85" stroke-linejoin="round" stroke-linecap="square"/>
<path d="M1604.5 1436.6 L1607.4 1401.7 L1610.3 1367.6 L1612.5 1387.2 L1614.7 1413.3 L1617.6 1433.7 L1621.2 1446.7 L1625.6 1449.6 L1630.0 1446.7 L1635.0 1438.0 L1639.4 1426.4 L1642.3 1414.8 L1647.4 1403.1 L1652.5 1398.1 L1658.3 1397.6 L1664.1 1399.5 L1669.2 1401.0 L1674.3 1394.4 L1680.1 1390.8 L1685.9 1387.2 L1691.0 1378.5 L1696.1 1376.7 L1701.9 1374.1 L1706.2 1369.7 L1712.0 1363.9 L1717.8 1357.4 L1722.9 1352.7 L1728.0 1352.0 L1732.4 1346.2 L1738.2 1340.7 L1744.0 1334.9 L1749.8 1331.2 L1755.6 1329.8 L1761.4 1326.9 L1765.8 1323.7 L1771.6 1323.0 L1776.0 1320.3 L1781.8 1318.9 L1787.6 1326.2 L1792.7 1325.0 L1797.7 1319.6 L1803.6 1325.4 L1809.4 1330.2 L1815.2 1334.6 L1819.5 1337.5 L1825.8 1346.5 L1836.0 1357.4 L1841.1 1365.4 L1851.2 1376.3 L1857.0 1379.6 L1863.6 1384.6 L1868.7 1387.9 L1873.8 1398.8 L1878.8 1409.7 L1883.9 1405.3 L1889.0 1405.3 L1894.8 1413.3 L1900.6 1410.4 L1905.7 1407.2 L1910.8 1405.3 L1915.9 1401.4 L1921.0 1404.9 L1926.8 1400.2 L1932.2 1395.6 L1937.7 1400.2 L1942.8 1401.7 L1947.8 1404.9 L1953.7 1408.2 L1958.7 1414.8 L1963.8 1402.4 L1969.6 1398.1 L1975.2 1407.5 L1980.5 1399.5 L1985.6 1430.8 L1991.4 1396.6 L1997.2 1411.9 L2002.3 1435.1 L2004.5 1474.3 L2007.4 1568.8 L2010.3 1496.1 L2012.5 1445.3 L2018.3 1438.0 L2020.5 1474.3 L2023.4 1532.4 L2029.2 1577.5" fill="none" stroke="#0000ff" stroke-width="3.85" stroke-linejoin="round" stroke-linecap="square"/>
<path d="M1603.8 1399.5 L1606.7 1385.7 L1610.3 1371.2 L1612.5 1390.1 L1615.4 1423.5 L1618.3 1439.5 L1620.5 1452.5 L1626.3 1459.5 L1632.1 1456.2 L1636.5 1446.7 L1640.8 1430.8 L1645.9 1416.2 L1652.5 1407.5 L1657.6 1408.2 L1662.6 1411.1 L1668.5 1412.6 L1674.3 1406.8 L1680.1 1403.9 L1685.9 1395.9 L1690.2 1388.6 L1696.1 1388.6 L1701.9 1387.9 L1706.2 1381.4 L1712.0 1374.1 L1717.8 1369.7 L1723.7 1365.4 L1729.5 1361.0 L1735.3 1354.5 L1741.1 1349.4 L1746.9 1345.8 L1752.7 1340.7 L1758.5 1337.5 L1764.3 1333.4 L1770.1 1331.2 L1776.0 1329.8 L1782.5 1329.1 L1787.6 1334.9 L1792.7 1335.3 L1797.7 1327.3 L1803.6 1336.0 L1809.4 1339.2 L1815.2 1343.6 L1819.5 1346.2 L1824.4 1355.2 L1834.5 1365.4 L1840.3 1375.5 L1846.2 1383.5 L1852.0 1386.4 L1857.8 1388.3 L1862.1 1393.0 L1867.9 1397.3 L1873.0 1407.5 L1878.1 1418.4 L1883.9 1411.1 L1889.0 1412.2 L1894.8 1420.9 L1900.6 1419.1 L1905.7 1415.5 L1910.8 1412.6 L1915.9 1411.9 L1921.7 1410.4 L1927.5 1407.5 L1932.2 1401.4 L1937.7 1404.6 L1942.8 1405.8 L1947.8 1408.7 L1953.7 1413.0 L1958.7 1421.3 L1963.8 1403.1 L1969.6 1401.7 L1975.2 1385.7 L1979.8 1401.7 L1985.6 1432.2 L1991.4 1394.4 L1996.5 1411.9 L2000.9 1471.4 L2007.4 1509.2 L2012.5 1454.0 L2017.6 1443.8 L2023.4 1483.1 L2029.2 1522.3" fill="none" stroke="#ff0000" stroke-width="3.85" stroke-linejoin="round" stroke-linecap="square"/>
<path d="M683.46 1790.00 L683.46 1012.80" stroke="#000" stroke-width="3.85" stroke-dasharray="13.71 5.93" fill="none"/>
<text x="454.9" y="1060.9" font-size="42.90">VNIR</text>
<text x="957.7" y="1061.1" font-size="42.90">SWIR</text>
<rect x="135.00" y="1012.80" width="1919.60" height="777.20" fill="none" stroke="#000" stroke-width="1.98" stroke-linejoin="miter"/>
<path d="M226.41 1790.00 L226.41 1798.64" stroke="#000" stroke-width="1.98"/>
<text x="226.41" y="1834.80" font-size="35.80" text-anchor="middle">500</text>
<path d="M454.93 1790.00 L454.93 1798.64" stroke="#000" stroke-width="1.98"/>
<text x="454.93" y="1834.80" font-size="35.80" text-anchor="middle">750</text>
<path d="M683.46 1790.00 L683.46 1798.64" stroke="#000" stroke-width="1.98"/>
<text x="683.46" y="1834.80" font-size="35.80" text-anchor="middle">1000</text>
<path d="M911.98 1790.00 L911.98 1798.64" stroke="#000" stroke-width="1.98"/>
<text x="911.98" y="1834.80" font-size="35.80" text-anchor="middle">1250</text>
<path d="M1140.50 1790.00 L1140.50 1798.64" stroke="#000" stroke-width="1.98"/>
<text x="1140.50" y="1834.80" font-size="35.80" text-anchor="middle">1500</text>
<path d="M1369.03 1790.00 L1369.03 1798.64" stroke="#000" stroke-width="1.98"/>
<text x="1369.03" y="1834.80" font-size="35.80" text-anchor="middle">1750</text>
<path d="M1597.55 1790.00 L1597.55 1798.64" stroke="#000" stroke-width="1.98"/>
<text x="1597.55" y="1834.80" font-size="35.80" text-anchor="middle">2000</text>
<path d="M1826.08 1790.00 L1826.08 1798.64" stroke="#000" stroke-width="1.98"/>
<text x="1826.08" y="1834.80" font-size="35.80" text-anchor="middle">2250</text>
<path d="M2054.60 1790.00 L2054.60 1798.64" stroke="#000" stroke-width="1.98"/>
<text x="2054.60" y="1834.80" font-size="35.80" text-anchor="middle">2500</text>
<path d="M135.00 1790.00 L126.36 1790.00" stroke="#000" stroke-width="1.98"/>
<text x="117.71" y="1803.20" font-size="35.80" text-anchor="end">0.0</text>
<path d="M135.00 1682.80 L126.36 1682.80" stroke="#000" stroke-width="1.98"/>
<text x="117.71" y="1696.00" font-size="35.80" text-anchor="end">0.1</text>
<path d="M135.00 1575.60 L126.36 1575.60" stroke="#000" stroke-width="1.98"/>
<text x="117.71" y="1588.80" font-size="35.80" text-anchor="end">0.2</text>
<path d="M135.00 1468.40 L126.36 1468.40" stroke="#000" stroke-width="1.98"/>
<text x="117.71" y="1481.60" font-size="35.80" text-anchor="end">0.3</text>
<path d="M135.00 1361.20 L126.36 1361.20" stroke="#000" stroke-width="1.98"/>
<text x="117.71" y="1374.40" font-size="35.80" text-anchor="end">0.4</text>
<path d="M135.00 1254.00 L126.36 1254.00" stroke="#000" stroke-width="1.98"/>
<text x="117.71" y="1267.20" font-size="35.80" text-anchor="end">0.5</text>
<path d="M135.00 1146.80 L126.36 1146.80" stroke="#000" stroke-width="1.98"/>
<text x="117.71" y="1160.00" font-size="35.80" text-anchor="end">0.6</text>
<path d="M135.00 1039.60 L126.36 1039.60" stroke="#000" stroke-width="1.98"/>
<text x="117.71" y="1052.80" font-size="35.80" text-anchor="end">0.7</text>
<text x="1094.80" y="1874.40" font-size="29.64" text-anchor="middle">Wavelength (nm)</text>
<text transform="translate(47.9 1405.40) rotate(-90)" x="0" y="0" font-size="29.64" text-anchor="middle">Reflectance</text>
<text x="1094.80" y="997.60" font-size="42.90" text-anchor="middle">Mid Stage</text>
<rect x="1661.6" y="1030.70" width="375.00" height="114.70" rx="7" ry="7" fill="#fff" fill-opacity="0.8" stroke="#d6d6d6" stroke-width="1.98"/>
<path d="M1673 1059.50 L1748.8 1059.50" stroke="#0000ff" stroke-width="4.2" stroke-linecap="butt"/>
<text x="1774" y="1071.70" font-size="35.80">Well Watered</text>
<path d="M1673 1111.60 L1748.8 1111.60" stroke="#ff0000" stroke-width="4.2" stroke-linecap="butt"/>
<text x="1774" y="1123.80" font-size="35.80">Water Limited</text>
<rect x="180.7" y="1952.7" width="18.28" height="777.2" fill="#ccccff"/>
<rect x="272.11" y="1952.7" width="18.28" height="777.2" fill="#cce6cc"/>
<rect x="381.81" y="1952.7" width="18.28" height="777.2" fill="#ffcccc"/>
<rect x="564.62" y="1952.7" width="18.28" height="777.2" fill="#e6e6e6"/>
<path d="M136.4 2667.1 L136.9 2598.1 L138.7 2607.2 L140.5 2621.7 L142.3 2636.3 L144.5 2644.4 L145.7 2645.5 L146.9 2646.7 L148.2 2648.1 L149.5 2649.8 L150.9 2650.9 L152.2 2652.5 L153.6 2653.5 L155.0 2653.9 L156.3 2654.1 L157.7 2654.7 L159.1 2655.3 L160.4 2655.3 L161.8 2655.5 L163.1 2656.0 L164.5 2656.2 L165.6 2655.9 L166.8 2655.3 L167.9 2654.8 L169.0 2654.4 L170.3 2656.5 L171.5 2657.9 L172.7 2659.9 L173.9 2660.5 L175.2 2661.1 L176.5 2661.7 L177.8 2663.2 L179.0 2663.5 L180.2 2663.8 L181.5 2664.5 L182.7 2664.8 L183.9 2665.1 L185.1 2665.8 L186.3 2666.2 L187.5 2667.0 L188.7 2667.3 L189.9 2667.8 L191.1 2667.9 L192.3 2668.1 L193.6 2668.6 L194.8 2669.0 L196.0 2669.8 L197.2 2669.4 L198.4 2670.2 L199.6 2670.0 L200.8 2670.4 L202.0 2670.4 L203.2 2670.8 L204.5 2671.0 L205.7 2671.0 L206.9 2671.9 L208.1 2671.7 L209.3 2672.2 L210.5 2671.9 L211.7 2671.8 L212.9 2672.7 L214.1 2672.0 L215.4 2672.6 L216.6 2672.4 L217.8 2673.0 L219.0 2672.8 L220.2 2673.0 L221.4 2673.6 L222.6 2673.5 L223.8 2673.6 L225.0 2673.4 L226.2 2673.6 L227.5 2673.3 L228.7 2673.5 L229.9 2673.9 L231.2 2674.0 L232.6 2674.0 L234.0 2673.6 L235.3 2673.1 L236.7 2672.8 L238.1 2671.8 L239.4 2671.0 L240.8 2670.8 L242.1 2669.8 L243.5 2667.9 L244.9 2666.9 L246.2 2665.3 L247.6 2663.8 L248.9 2662.3 L250.3 2660.7 L251.7 2659.0 L253.0 2657.2 L254.4 2655.3 L255.8 2653.4 L257.1 2651.7 L258.5 2650.6 L259.8 2649.1 L261.2 2647.9 L262.6 2646.6 L263.8 2646.4 L265.0 2646.2 L266.2 2645.2 L267.4 2645.4 L268.6 2645.2 L269.8 2644.8 L271.0 2645.1 L272.3 2644.9 L273.5 2644.4 L274.7 2644.8 L275.9 2645.0 L277.1 2644.4 L278.4 2644.8 L279.6 2645.0 L280.9 2645.3 L282.2 2645.7 L283.5 2645.9 L284.8 2646.6 L286.2 2648.1 L287.5 2649.3 L288.9 2649.9 L290.3 2651.5 L291.6 2652.7 L293.0 2654.7 L294.3 2656.2 L295.7 2658.2 L297.1 2659.9 L298.4 2662.2 L299.8 2663.5 L301.1 2664.7 L302.3 2665.7 L303.6 2666.8 L304.9 2668.4 L306.2 2669.0 L307.4 2669.5 L308.6 2670.5 L309.8 2671.1 L311.0 2672.0 L312.2 2673.0 L313.4 2673.5 L314.5 2674.0 L315.7 2674.7 L316.8 2674.6 L318.0 2674.6 L319.1 2675.7 L320.2 2675.7 L321.4 2675.7 L322.5 2676.2 L323.7 2676.3 L324.9 2676.8 L326.1 2677.4 L327.3 2678.4 L328.5 2679.1 L329.8 2679.3 L330.9 2680.0 L332.0 2680.4 L333.2 2680.7 L334.3 2681.3 L335.4 2681.4 L336.6 2682.2 L337.7 2682.4 L338.8 2682.6 L340.0 2682.8 L341.1 2682.8 L342.2 2683.6 L343.4 2683.1 L344.5 2683.8 L345.6 2683.9 L346.8 2684.0 L347.9 2684.4 L349.1 2684.6 L350.3 2684.5 L351.5 2684.5 L352.8 2684.1 L354.0 2684.5 L355.2 2684.4 L356.4 2684.8 L357.6 2685.3 L358.8 2685.3 L360.0 2685.8 L361.2 2685.5 L362.4 2686.2 L363.7 2686.5 L364.9 2687.2 L366.1 2687.3 L367.3 2687.4 L368.5 2687.7 L369.7 2688.0 L370.9 2688.5 L372.1 2688.8 L373.3 2688.9 L374.6 2689.1 L375.8 2689.0 L377.0 2689.8 L378.2 2690.0 L379.4 2690.1 L380.6 2690.5 L381.8 2691.2 L383.0 2691.5 L384.2 2691.7 L385.4 2691.9 L386.7 2691.8 L387.9 2691.5 L389.1 2692.0 L390.3 2691.8 L391.5 2692.0 L392.7 2692.0 L393.9 2691.9 L395.1 2691.5 L396.3 2691.9 L397.6 2691.5 L398.8 2691.3 L400.1 2691.0 L401.5 2690.2 L402.9 2689.4 L404.2 2688.9 L405.3 2687.4 L406.5 2684.9 L407.6 2683.3 L408.8 2681.7 L409.9 2678.4 L411.0 2675.6 L412.2 2672.5 L413.3 2669.0 L418.7 2647.2 L424.2 2619.9 L430.0 2576.3 L432.6 2560.0 L435.3 2537.0 L438.3 2513.3 L440.6 2493.7 L445.9 2438.8 L448.8 2401.6 L451.7 2368.7 L454.6 2341.5 L457.5 2320.2 L460.4 2302.8 L463.3 2287.3 L465.2 2278.6 L467.2 2280.5 L468.7 2295.1 L469.5 2297.0 L471.0 2269.9 L472.6 2246.6 L473.8 2240.0 L474.9 2234.0 L476.9 2236.0 L478.0 2239.5 L479.2 2241.8 L480.5 2241.2 L481.9 2240.6 L483.2 2239.4 L484.6 2237.9 L485.8 2238.0 L486.9 2235.7 L488.1 2234.4 L489.2 2233.5 L490.4 2233.1 L491.6 2233.8 L492.7 2232.0 L493.9 2232.5 L495.1 2230.5 L496.2 2231.5 L497.4 2230.5 L498.5 2229.2 L499.7 2228.2 L500.9 2227.3 L502.0 2226.3 L503.2 2225.7 L504.4 2226.2 L505.5 2224.6 L506.7 2225.2 L507.8 2224.4 L509.1 2224.1 L510.3 2222.3 L511.5 2221.3 L512.7 2220.5 L514.0 2221.3 L515.3 2223.6 L516.6 2225.3 L518.0 2228.3 L519.5 2231.1 L520.8 2227.9 L522.1 2224.3 L523.3 2221.5 L524.8 2224.9 L526.2 2226.3 L527.7 2221.2 L529.2 2217.6 L530.6 2221.7 L532.1 2225.3 L533.2 2224.2 L534.3 2222.1 L535.4 2222.4 L536.6 2220.4 L537.7 2219.7 L538.8 2218.5 L540.0 2217.8 L541.2 2217.2 L542.3 2217.3 L543.5 2215.5 L544.6 2217.2 L545.8 2217.5 L547.0 2216.6 L548.1 2216.5 L549.3 2216.9 L550.5 2216.6 L551.8 2218.1 L553.0 2219.2 L554.3 2220.5 L555.8 2215.2 L557.2 2210.8 L558.5 2211.5 L559.7 2212.5 L560.9 2211.9 L562.1 2213.7 L563.4 2215.0 L564.7 2217.1 L566.0 2218.5 L567.4 2214.9 L568.9 2211.8 L570.1 2213.3 L571.3 2214.0 L572.5 2214.4 L573.7 2214.7 L574.9 2214.7 L576.0 2214.5 L577.2 2214.5 L578.4 2214.1 L579.5 2213.7 L580.6 2214.3 L581.7 2213.5 L582.8 2214.8 L583.9 2213.7 L585.1 2214.3 L586.2 2214.8 L587.3 2214.3 L588.6 2216.2 L589.8 2217.2 L591.1 2220.5 L592.4 2221.8 L593.7 2224.2 L595.0 2226.3 L596.2 2222.8 L597.4 2220.6 L598.6 2216.2 L599.9 2213.3 L601.0 2218.2 L602.1 2221.6 L603.2 2225.7 L604.3 2228.8 L606.0 2223.8 L607.6 2220.5 L608.9 2222.0 L610.2 2223.8 L611.5 2225.3 L612.6 2223.9 L613.7 2221.0 L614.8 2220.2 L615.9 2217.6 L617.4 2220.8 L618.8 2222.6 L620.2 2225.3 L621.6 2227.5 L623.1 2229.2 L624.4 2237.4 L625.7 2244.4 L627.0 2252.4 L628.4 2247.9 L629.9 2242.8 L631.5 2228.2 L633.2 2213.7 L634.3 2226.6 L635.5 2238.9 L636.7 2251.5 L637.9 2249.0 L639.2 2244.3 L640.5 2240.8 L641.8 2244.6 L643.1 2247.4 L644.4 2252.4 L645.7 2254.5 L647.0 2256.0 L648.3 2258.3 L649.5 2260.2 L650.7 2263.1 L651.9 2264.7 L653.1 2267.0 L654.4 2267.6 L655.7 2268.5 L657.0 2267.9 L658.5 2266.2 L659.9 2264.1 L661.1 2267.3 L662.3 2269.2 L663.5 2272.6 L664.7 2275.7 L666.0 2272.7 L667.3 2269.6 L668.6 2267.0 L669.9 2265.0 L671.2 2264.9 L672.5 2263.1 L673.8 2263.0 L675.1 2262.5 L676.4 2261.2 L677.7 2259.6 L679.0 2259.1 L680.2 2258.3 L683.6 2256.6" fill="none" stroke="#0000ff" stroke-width="3.85" stroke-linejoin="round" stroke-linecap="square"/>
<path d="M136.4 2667.1 L136.9 2598.1 L138.7 2607.2 L140.5 2621.7 L142.3 2636.3 L144.5 2643.5 L145.7 2644.7 L146.9 2645.7 L148.2 2647.2 L149.5 2648.6 L150.9 2649.6 L152.2 2651.6 L153.6 2652.6 L155.0 2652.7 L156.3 2653.5 L157.7 2654.0 L159.1 2654.4 L160.4 2654.6 L161.8 2655.2 L163.1 2655.2 L164.5 2655.3 L165.6 2654.9 L166.8 2654.5 L167.9 2653.5 L169.0 2653.5 L170.3 2655.4 L171.5 2657.2 L172.7 2659.0 L173.9 2659.8 L175.2 2660.6 L176.5 2661.0 L177.8 2662.1 L179.0 2662.6 L180.2 2662.8 L181.5 2663.4 L182.7 2664.3 L183.9 2664.5 L185.1 2665.1 L186.3 2665.3 L187.5 2665.7 L188.7 2666.6 L189.9 2666.5 L191.1 2667.2 L192.3 2667.1 L193.6 2667.7 L194.8 2668.4 L196.0 2668.3 L197.2 2668.5 L198.4 2669.1 L199.6 2669.0 L200.8 2669.5 L202.0 2669.9 L203.2 2670.1 L204.5 2670.2 L205.7 2670.1 L206.9 2670.7 L208.1 2670.8 L209.3 2671.0 L210.5 2671.0 L211.7 2671.3 L212.9 2671.5 L214.1 2671.9 L215.4 2671.7 L216.6 2671.9 L217.8 2672.0 L219.0 2672.0 L220.2 2672.3 L221.4 2672.8 L222.6 2672.6 L223.8 2672.5 L225.0 2672.9 L226.2 2672.8 L227.5 2672.9 L228.7 2672.4 L229.9 2673.0 L231.2 2672.7 L232.6 2672.5 L234.0 2672.6 L235.3 2672.2 L236.7 2671.6 L238.1 2671.0 L239.4 2670.2 L240.8 2669.9 L242.1 2668.3 L243.5 2667.1 L244.9 2665.4 L246.2 2664.4 L247.6 2663.2 L248.9 2661.5 L250.3 2660.1 L251.7 2658.1 L253.0 2656.0 L254.4 2654.6 L255.8 2652.4 L257.1 2650.8 L258.5 2649.3 L259.8 2648.6 L261.2 2646.7 L262.6 2645.7 L263.8 2645.4 L265.0 2644.9 L266.2 2644.9 L267.4 2644.1 L268.6 2644.0 L269.8 2643.9 L271.0 2643.9 L272.3 2643.6 L273.5 2643.3 L274.7 2643.7 L275.9 2643.0 L277.1 2643.5 L278.4 2643.0 L279.6 2644.4 L280.9 2644.2 L282.2 2644.6 L283.5 2645.0 L284.8 2646.1 L286.2 2647.0 L287.5 2648.2 L288.9 2649.0 L290.3 2650.7 L291.6 2651.9 L293.0 2654.1 L294.3 2655.3 L295.7 2657.2 L297.1 2658.9 L298.4 2661.0 L299.8 2662.6 L301.1 2663.8 L302.3 2664.9 L303.6 2665.5 L304.9 2667.3 L306.2 2668.1 L307.4 2668.8 L308.6 2669.2 L309.8 2670.2 L311.0 2671.2 L312.2 2671.9 L313.4 2672.6 L314.5 2672.8 L315.7 2673.4 L316.8 2673.6 L318.0 2674.0 L319.1 2674.1 L320.2 2675.0 L321.4 2675.0 L322.5 2675.3 L323.7 2676.3 L324.9 2676.2 L326.1 2676.8 L327.3 2676.6 L328.5 2677.8 L329.8 2678.4 L330.9 2678.6 L332.0 2679.1 L333.2 2679.7 L334.3 2680.0 L335.4 2680.4 L336.6 2680.6 L337.7 2681.7 L338.8 2681.7 L340.0 2682.0 L341.1 2682.7 L342.2 2682.1 L343.4 2682.3 L344.5 2682.5 L345.6 2682.9 L346.8 2683.3 L347.9 2683.5 L349.1 2683.0 L350.3 2684.0 L351.5 2684.2 L352.8 2683.4 L354.0 2683.7 L355.2 2683.5 L356.4 2683.8 L357.6 2683.9 L358.8 2684.7 L360.0 2684.7 L361.2 2685.5 L362.4 2685.3 L363.7 2685.7 L364.9 2686.2 L366.1 2686.7 L367.3 2686.6 L368.5 2686.1 L369.7 2687.1 L370.9 2687.6 L372.1 2687.5 L373.3 2688.5 L374.6 2688.4 L375.8 2688.6 L377.0 2688.9 L378.2 2689.9 L379.4 2689.5 L380.6 2689.6 L381.8 2690.1 L383.0 2690.3 L384.2 2690.8 L385.4 2690.4 L386.7 2691.4 L387.9 2691.1 L389.1 2691.4 L390.3 2691.2 L391.5 2691.1 L392.7 2690.6 L393.9 2691.1 L395.1 2690.8 L396.3 2690.2 L397.6 2689.9 L398.8 2690.4 L400.1 2690.0 L401.5 2688.8 L402.9 2688.5 L404.2 2688.0 L405.3 2685.9 L406.5 2684.9 L407.6 2683.3 L408.8 2681.7 L409.9 2678.5 L411.0 2675.3 L412.2 2672.0 L413.3 2669.0 L418.7 2647.2 L424.2 2619.9 L430.0 2576.3 L432.4 2560.0 L435.1 2537.0 L438.1 2513.3 L440.4 2493.7 L445.9 2440.0 L448.8 2402.8 L451.7 2369.8 L454.6 2342.7 L457.5 2321.4 L460.4 2304.0 L463.3 2288.5 L465.2 2279.8 L467.2 2281.7 L468.7 2296.2 L469.5 2298.2 L471.0 2271.0 L472.6 2247.8 L473.8 2241.6 L474.9 2235.2 L476.9 2237.1 L478.0 2240.7 L479.2 2243.0 L480.5 2241.9 L481.9 2241.2 L483.2 2240.2 L484.6 2239.1 L485.8 2239.0 L486.9 2237.2 L488.1 2235.4 L489.2 2236.0 L490.4 2234.2 L491.6 2233.3 L492.7 2234.1 L493.9 2233.6 L495.1 2232.9 L496.2 2232.7 L497.4 2232.1 L498.5 2231.2 L499.7 2229.0 L500.9 2227.8 L502.0 2227.5 L503.2 2226.6 L504.4 2227.1 L505.5 2226.1 L506.7 2226.2 L507.8 2225.5 L509.1 2224.1 L510.3 2223.4 L511.5 2223.6 L512.7 2221.6 L514.0 2223.7 L515.3 2224.7 L516.6 2226.5 L518.0 2229.5 L519.5 2232.3 L520.8 2230.1 L522.1 2226.9 L523.3 2222.6 L524.8 2224.5 L526.2 2227.5 L527.7 2223.3 L529.2 2218.7 L530.6 2222.2 L532.1 2226.5 L533.2 2225.1 L534.3 2224.2 L535.4 2222.8 L536.6 2221.6 L537.7 2221.7 L538.8 2219.7 L540.0 2219.6 L541.2 2219.7 L542.3 2219.2 L543.5 2218.7 L544.6 2218.4 L545.8 2217.7 L547.0 2218.7 L548.1 2218.2 L549.3 2217.6 L550.5 2217.8 L551.8 2219.8 L553.0 2220.6 L554.3 2221.6 L555.8 2215.5 L557.2 2212.0 L558.5 2212.6 L559.7 2213.0 L560.9 2214.7 L562.1 2214.9 L563.4 2215.8 L564.7 2218.7 L566.0 2219.7 L567.4 2216.0 L568.9 2212.9 L570.1 2213.6 L571.3 2215.0 L572.5 2215.3 L573.7 2215.8 L574.9 2215.0 L576.0 2215.4 L577.2 2215.7 L578.4 2214.6 L579.5 2214.9 L580.6 2215.1 L581.7 2215.5 L582.8 2214.9 L583.9 2215.4 L585.1 2215.6 L586.2 2215.4 L587.3 2215.4 L588.6 2217.7 L589.8 2219.5 L591.1 2221.6 L592.4 2224.2 L593.7 2226.4 L595.0 2227.5 L596.2 2224.4 L597.4 2220.5 L598.6 2217.0 L599.9 2214.5 L601.0 2217.5 L602.1 2222.3 L603.2 2226.5 L604.3 2230.0 L606.0 2226.2 L607.6 2221.6 L608.9 2223.5 L610.2 2225.3 L611.5 2226.5 L612.6 2224.6 L613.7 2222.0 L614.8 2220.9 L615.9 2218.7 L617.4 2221.9 L618.8 2223.5 L620.2 2226.5 L621.6 2229.2 L623.1 2230.4 L624.4 2237.7 L625.7 2245.7 L627.0 2253.6 L628.4 2248.9 L629.9 2243.9 L631.5 2230.7 L633.2 2214.9 L634.3 2227.6 L635.5 2239.6 L636.7 2252.6 L637.9 2249.1 L639.2 2245.0 L640.5 2242.0 L641.8 2246.2 L643.1 2248.7 L644.4 2253.6 L645.7 2255.9 L647.0 2256.8 L648.3 2259.4 L649.5 2262.5 L650.7 2263.7 L651.9 2266.0 L653.1 2268.1 L654.4 2269.2 L655.7 2268.3 L657.0 2269.1 L658.5 2267.1 L659.9 2265.2 L661.1 2268.9 L662.3 2271.5 L663.5 2273.2 L664.7 2276.9 L666.0 2274.2 L667.3 2270.3 L668.6 2268.1 L669.9 2266.6 L671.2 2265.8 L672.5 2264.3 L673.8 2263.1 L675.1 2262.4 L676.4 2262.3 L677.7 2261.8 L679.0 2261.4 L680.2 2259.4 L683.6 2257.7" fill="none" stroke="#ff0000" stroke-width="3.85" stroke-linejoin="round" stroke-linecap="square"/>
<path d="M1099.0 2239.7 L1105.6 2232.7 L1110.6 2215.3 L1117.0 2217.3 L1126.0 2217.3 L1132.9 2215.3 L1137.9 2208.7 L1143.9 2195.7 L1149.9 2181.8 L1155.9 2168.8 L1160.9 2157.8 L1165.5 2146.8 L1169.9 2124.2 L1175.9 2127.8 L1181.9 2115.8 L1187.9 2105.8 L1193.9 2095.9 L1198.9 2086.9 L1204.9 2079.5 L1211.9 2067.9 L1219.8 2056.9 L1227.8 2045.9 L1235.8 2036.9 L1241.8 2028.9 L1249.8 2021.5 L1257.8 2014.4 L1265.8 2009.0 L1273.8 2005.6 L1281.8 2004.4 L1289.8 2005.4 L1295.8 2007.6 L1303.7 2013.0 L1311.7 2021.9 L1319.7 2030.9 L1327.7 2037.9 L1337.7 2050.9 L1347.7 2058.9 L1357.7 2066.9 L1363.7 2073.9 L1371.7 2082.9 L1377.7 2088.9 L1383.6 2093.9 L1391.6 2096.9 L1397.6 2099.3 L1401.6 2098.9 L1407.6 2087.9" fill="none" stroke="#0000ff" stroke-width="3.85" stroke-linejoin="round" stroke-linecap="square"/>
<path d="M1099.0 2266.7 L1105.6 2260.7 L1110.6 2245.7 L1117.0 2247.7 L1127.0 2245.7 L1132.9 2240.7 L1137.9 2233.7 L1142.9 2223.7 L1148.9 2211.7 L1154.9 2199.7 L1159.9 2188.7 L1164.9 2177.8 L1169.9 2162.8 L1175.9 2165.4 L1181.9 2154.8 L1187.9 2145.8 L1193.9 2136.8 L1199.9 2127.8 L1205.9 2121.8 L1211.9 2112.8 L1219.8 2101.9 L1227.8 2091.9 L1235.8 2083.9 L1241.8 2077.9 L1249.8 2071.5 L1257.8 2064.9 L1265.8 2059.5 L1273.8 2056.5 L1281.8 2055.9 L1289.8 2056.9 L1297.7 2059.5 L1305.7 2064.9 L1313.7 2072.9 L1321.7 2079.9 L1329.7 2086.9 L1337.7 2094.9 L1343.7 2099.9 L1349.7 2102.9 L1355.7 2107.4 L1361.7 2111.8 L1369.7 2120.8 L1377.7 2129.4 L1385.6 2134.4 L1391.6 2136.2 L1397.6 2139.8 L1401.6 2139.8 L1407.6 2132.8" fill="none" stroke="#ff0000" stroke-width="3.85" stroke-linejoin="round" stroke-linecap="square"/>
<path d="M1604.5 2306.7 L1606.7 2314.6 L1609.6 2324.8 L1612.5 2329.9 L1616.2 2334.3 L1618.3 2344.4 L1620.5 2357.5 L1623.4 2361.9 L1627.0 2364.8 L1632.1 2361.9 L1636.5 2354.6 L1640.8 2341.5 L1646.7 2328.5 L1653.2 2322.3 L1658.3 2324.8 L1663.4 2329.6 L1669.2 2332.5 L1674.3 2332.1 L1680.1 2329.2 L1685.9 2324.1 L1690.2 2323.4 L1696.1 2317.6 L1701.9 2314.6 L1707.7 2310.7 L1712.8 2306.9 L1717.8 2304.9 L1722.9 2301.6 L1728.0 2296.8 L1733.8 2292.1 L1739.6 2289.2 L1745.4 2285.6 L1751.3 2282.0 L1755.6 2279.1 L1761.4 2275.4 L1767.2 2273.2 L1773.1 2270.3 L1778.9 2267.4 L1784.7 2266.3 L1787.6 2266.3 L1792.7 2268.6 L1797.7 2266.0 L1803.6 2273.2 L1809.4 2278.3 L1814.5 2279.3 L1819.5 2283.7 L1825.4 2290.6 L1829.9 2299.6 L1836.2 2305.9 L1840.7 2314.0 L1846.1 2320.3 L1852.4 2325.7 L1862.4 2331.1 L1868.7 2336.5 L1874.1 2341.9 L1878.6 2347.3 L1884.0 2343.4 L1889.4 2344.6 L1894.8 2348.8 L1900.2 2348.2 L1905.6 2342.8 L1911.0 2336.5 L1916.4 2329.0 L1921.3 2336.9 L1927.3 2332.9 L1931.8 2319.4 L1937.2 2312.2 L1943.5 2308.6 L1948.0 2340.1 L1953.4 2348.8 L1958.8 2354.2 L1964.2 2344.6 L1969.6 2347.3 L1975.0 2368.1 L1980.1 2348.2 L1985.5 2369.0 L1990.3 2361.8 L1996.7 2366.8 L2001.2 2397.8 L2007.5 2420.3 L2012.9 2379.8 L2018.3 2394.2 L2023.7 2426.7 L2029.1 2534.8" fill="none" stroke="#0000ff" stroke-width="3.85" stroke-linejoin="round" stroke-linecap="square"/>
<path d="M1604.5 2404.0 L1607.4 2385.1 L1610.3 2367.4 L1613.2 2372.8 L1616.2 2379.3 L1620.5 2377.1 L1626.3 2382.9 L1632.1 2381.5 L1636.5 2373.5 L1641.6 2361.9 L1647.4 2351.7 L1653.2 2344.4 L1658.3 2348.8 L1664.1 2351.7 L1669.2 2353.4 L1674.3 2353.4 L1680.1 2349.5 L1685.9 2345.2 L1691.7 2343.0 L1696.1 2341.8 L1701.9 2337.9 L1707.7 2336.0 L1712.8 2334.3 L1717.8 2329.6 L1723.7 2325.5 L1728.7 2321.5 L1733.8 2318.3 L1739.6 2314.2 L1745.4 2311.0 L1751.3 2307.8 L1757.1 2304.0 L1762.9 2301.1 L1767.2 2299.4 L1773.1 2299.4 L1777.4 2298.7 L1783.2 2299.4 L1787.6 2299.1 L1792.7 2297.2 L1797.7 2295.3 L1802.8 2302.0 L1809.4 2305.9 L1814.5 2308.8 L1819.5 2311.7 L1824.5 2319.4 L1829.9 2329.3 L1835.3 2335.6 L1840.7 2341.9 L1847.0 2345.2 L1854.2 2350.9 L1862.4 2356.4 L1868.7 2363.6 L1874.1 2369.9 L1878.6 2373.5 L1884.0 2369.9 L1892.1 2372.6 L1899.3 2375.3 L1904.7 2371.7 L1911.0 2363.9 L1916.4 2355.5 L1921.3 2363.9 L1927.3 2360.3 L1931.8 2350.0 L1937.2 2368.1 L1942.6 2365.4 L1948.0 2371.7 L1953.4 2382.0 L1958.8 2381.6 L1964.2 2373.5 L1969.6 2373.5 L1975.0 2485.2 L1980.4 2432.1 L1985.5 2389.7 L1990.9 2474.4 L1996.7 2448.3 L2001.2 2525.8 L2007.5 2568.2 L2012.9 2490.6 L2018.3 2506.9 L2023.7 2572.7 L2029.1 2634.9" fill="none" stroke="#ff0000" stroke-width="3.85" stroke-linejoin="round" stroke-linecap="square"/>
<path d="M683.46 2729.90 L683.46 1952.70" stroke="#000" stroke-width="3.85" stroke-dasharray="13.71 5.93" fill="none"/>
<text x="454.9" y="2000.8" font-size="42.90">VNIR</text>
<text x="957.7" y="2001.0" font-size="42.90">SWIR</text>
<rect x="135.00" y="1952.70" width="1919.60" height="777.20" fill="none" stroke="#000" stroke-width="1.98" stroke-linejoin="miter"/>
<path d="M226.41 2729.90 L226.41 2738.55" stroke="#000" stroke-width="1.98"/>
<text x="226.41" y="2774.70" font-size="35.80" text-anchor="middle">500</text>
<path d="M454.93 2729.90 L454.93 2738.55" stroke="#000" stroke-width="1.98"/>
<text x="454.93" y="2774.70" font-size="35.80" text-anchor="middle">750</text>
<path d="M683.46 2729.90 L683.46 2738.55" stroke="#000" stroke-width="1.98"/>
<text x="683.46" y="2774.70" font-size="35.80" text-anchor="middle">1000</text>
<path d="M911.98 2729.90 L911.98 2738.55" stroke="#000" stroke-width="1.98"/>
<text x="911.98" y="2774.70" font-size="35.80" text-anchor="middle">1250</text>
<path d="M1140.50 2729.90 L1140.50 2738.55" stroke="#000" stroke-width="1.98"/>
<text x="1140.50" y="2774.70" font-size="35.80" text-anchor="middle">1500</text>
<path d="M1369.03 2729.90 L1369.03 2738.55" stroke="#000" stroke-width="1.98"/>
<text x="1369.03" y="2774.70" font-size="35.80" text-anchor="middle">1750</text>
<path d="M1597.55 2729.90 L1597.55 2738.55" stroke="#000" stroke-width="1.98"/>
<text x="1597.55" y="2774.70" font-size="35.80" text-anchor="middle">2000</text>
<path d="M1826.08 2729.90 L1826.08 2738.55" stroke="#000" stroke-width="1.98"/>
<text x="1826.08" y="2774.70" font-size="35.80" text-anchor="middle">2250</text>
<path d="M2054.60 2729.90 L2054.60 2738.55" stroke="#000" stroke-width="1.98"/>
<text x="2054.60" y="2774.70" font-size="35.80" text-anchor="middle">2500</text>
<path d="M135.00 2729.90 L126.36 2729.90" stroke="#000" stroke-width="1.98"/>
<text x="117.71" y="2743.10" font-size="35.80" text-anchor="end">0.0</text>
<path d="M135.00 2622.70 L126.36 2622.70" stroke="#000" stroke-width="1.98"/>
<text x="117.71" y="2635.90" font-size="35.80" text-anchor="end">0.1</text>
<path d="M135.00 2515.50 L126.36 2515.50" stroke="#000" stroke-width="1.98"/>
<text x="117.71" y="2528.70" font-size="35.80" text-anchor="end">0.2</text>
<path d="M135.00 2408.30 L126.36 2408.30" stroke="#000" stroke-width="1.98"/>
<text x="117.71" y="2421.50" font-size="35.80" text-anchor="end">0.3</text>
<path d="M135.00 2301.10 L126.36 2301.10" stroke="#000" stroke-width="1.98"/>
<text x="117.71" y="2314.30" font-size="35.80" text-anchor="end">0.4</text>
<path d="M135.00 2193.90 L126.36 2193.90" stroke="#000" stroke-width="1.98"/>
<text x="117.71" y="2207.10" font-size="35.80" text-anchor="end">0.5</text>
<path d="M135.00 2086.70 L126.36 2086.70" stroke="#000" stroke-width="1.98"/>
<text x="117.71" y="2099.90" font-size="35.80" text-anchor="end">0.6</text>
<path d="M135.00 1979.50 L126.36 1979.50" stroke="#000" stroke-width="1.98"/>
<text x="117.71" y="1992.70" font-size="35.80" text-anchor="end">0.7</text>
<text transform="translate(1095.60 2811.00) scale(1 0.833)" x="0" y="0" font-size="29.64" text-anchor="middle">Wavelength (nm)</text>
<text transform="translate(47.9 2345.30) rotate(-90)" x="0" y="0" font-size="29.64" text-anchor="middle">Reflectance</text>
<text x="1094.80" y="1937.50" font-size="42.90" text-anchor="middle">Post Stage</text>
<rect x="1661.6" y="1970.60" width="375.00" height="114.70" rx="7" ry="7" fill="#fff" fill-opacity="0.8" stroke="#d6d6d6" stroke-width="1.98"/>
<path d="M1673 1999.40 L1748.8 1999.40" stroke="#0000ff" stroke-width="4.2" stroke-linecap="butt"/>
<text x="1774" y="2011.60" font-size="35.80">Well Watered</text>
<path d="M1673 2051.50 L1748.8 2051.50" stroke="#ff0000" stroke-width="4.2" stroke-linecap="butt"/>
<text x="1774" y="2063.70" font-size="35.80">Water Limited</text>
</svg></body></html>
